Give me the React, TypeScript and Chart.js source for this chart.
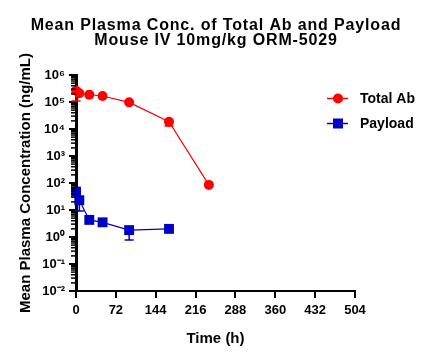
import React, { useEffect, useRef } from 'react';
import { Chart, registerables } from 'chart.js';

Chart.register(...registerables);

const FONT = '"Liberation Sans", Arial, Helvetica, sans-serif';

const titleLines = ['Mean Plasma Conc. of Total Ab and Payload', 'Mouse IV 10mg/kg ORM-5029'];
const xTitle = 'Time (h)';
const yTitle = 'Mean Plasma Concentration (ng/mL)';

const timesAb = [0.083, 6, 24, 48, 96, 168, 240];
const totalAb = [2.6e5, 2.1e5, 1.87e5, 1.67e5, 9.7e4, 1.85e4, 85];
const totalAbLow: (number | null)[] = [1.1e5, null, null, null, null, 1.3e4, null];

const timesPayload = [0.083, 6, 24, 48, 96, 168];
const payload = [48, 23, 4.3, 3.5, 1.8, 2.0];
const payloadLow: (number | null)[] = [null, 9.1, null, null, 0.78, null];

const xTicks = [0, 72, 144, 216, 288, 360, 432, 504];
const yPowers = [-2, -1, 0, 1, 2, 3, 4, 5, 6];

const seriesNames = ['Total Ab', 'Payload'];
const RED = '#FF0000';
const BLUE = '#0000C8';

const SUP: Record<string, string> = {
  '-': '\u207B', '0': '\u2070', '1': '\u00B9', '2': '\u00B2', '3': '\u00B3',
  '4': '\u2074', '5': '\u2075', '6': '\u2076', '7': '\u2077', '8': '\u2078', '9': '\u2079',
};

const isPower = (v: number) => {
  const l = Math.log10(v);
  return Math.abs(l - Math.round(l)) < 1e-9;
};

const yTickValues: number[] = [];
yPowers.forEach((p, i) => {
  yTickValues.push(Math.pow(10, p));
  if (i < yPowers.length - 1) {
    for (let m = 2; m <= 9; m++) yTickValues.push(m * Math.pow(10, p));
  }
});

const errorBars = {
  id: 'errorBars',
  beforeDatasetsDraw(chart: any) {
    const ctx = chart.ctx;
    const x = chart.scales.x;
    const y = chart.scales.y;
    const lows = [totalAbLow, payloadLow];
    chart.data.datasets.forEach((ds: any, di: number) => {
      ctx.save();
      ctx.strokeStyle = ds.borderColor;
      ctx.lineWidth = 1.5;
      ds.data.forEach((pt: any, i: number) => {
        const lo = lows[di][i];
        if (lo == null) return;
        const px = x.getPixelForValue(pt.x);
        const py = y.getPixelForValue(pt.y);
        const ly = y.getPixelForValue(lo);
        ctx.beginPath();
        ctx.moveTo(px, py);
        ctx.lineTo(px, ly);
        ctx.moveTo(px - 4.5, ly);
        ctx.lineTo(px + 4.5, ly);
        ctx.stroke();
      });
      ctx.restore();
    });
  },
};

const decorations = {
  id: 'decorations',
  afterDraw(chart: any) {
    const ctx = chart.ctx;
    const y = chart.scales.y;
    const left = chart.chartArea.left;
    ctx.save();
    // minor ticks
    ctx.strokeStyle = '#000';
    ctx.lineWidth = 1.5;
    yTickValues.forEach((v) => {
      if (isPower(v)) return;
      const py = y.getPixelForValue(v);
      ctx.beginPath();
      ctx.moveTo(left - 5, py);
      ctx.lineTo(left, py);
      ctx.stroke();
    });
    // title
    ctx.fillStyle = '#000';
    ctx.textAlign = 'center';
    ctx.textBaseline = 'alphabetic';
    ctx.font = `bold 16px ${FONT}`;
    (ctx as any).letterSpacing = '0.85px';
    ctx.fillText(titleLines[0], 216, 30);
    ctx.fillText(titleLines[1], 216, 45);
    (ctx as any).letterSpacing = '0px';
    // legend
    const items = [
      { name: seriesNames[0], color: RED, style: 'circle', y: 98.5 },
      { name: seriesNames[1], color: BLUE, style: 'rect', y: 123.5 },
    ];
    items.forEach((it) => {
      ctx.strokeStyle = it.color;
      ctx.fillStyle = it.color;
      ctx.lineWidth = 1.5;
      ctx.beginPath();
      ctx.moveTo(327, it.y);
      ctx.lineTo(348, it.y);
      ctx.stroke();
      if (it.style === 'circle') {
        ctx.beginPath();
        ctx.arc(338, it.y, 5, 0, Math.PI * 2);
        ctx.fill();
      } else {
        ctx.fillRect(333, it.y - 5, 10, 10);
      }
      ctx.fillStyle = '#000';
      ctx.textAlign = 'left';
      ctx.textBaseline = 'middle';
      ctx.font = `bold 14px ${FONT}`;
      ctx.fillText(it.name, 360, it.y + 0.5);
    });
    ctx.restore();
  },
};

export default function App() {
  const ref = useRef<HTMLCanvasElement>(null);
  useEffect(() => {
    document.body.style.margin = '0';
    if (!ref.current) return;
    const chart = new Chart(ref.current, {
      type: 'scatter',
      data: {
        datasets: [
          {
            label: seriesNames[0],
            data: timesAb.map((t, i) => ({ x: t, y: totalAb[i] })),
            showLine: true,
            borderColor: RED,
            backgroundColor: RED,
            borderWidth: 1.2,
            pointStyle: 'circle',
            pointRadius: 5,
            pointHoverRadius: 5,
            pointBorderWidth: 0,
            clip: false,
          },
          {
            label: seriesNames[1],
            data: timesPayload.map((t, i) => ({ x: t, y: payload[i] })),
            showLine: true,
            borderColor: BLUE,
            backgroundColor: BLUE,
            borderWidth: 1.2,
            pointStyle: 'rect',
            pointRadius: 7,
            pointHoverRadius: 7,
            pointBorderWidth: 0,
            clip: false,
          },
        ],
      },
      options: {
        animation: false,
        responsive: true,
        maintainAspectRatio: false,
        events: [],
        layout: { padding: { top: 75, right: 77, left: 0, bottom: 0 } },
        plugins: {
          legend: { display: false },
          title: { display: false },
          tooltip: { enabled: false },
        },
        scales: {
          x: {
            type: 'linear',
            min: 0,
            max: 504,
            afterBuildTicks: (scale: any) => {
              scale.ticks = xTicks.map((v) => ({ value: v }));
            },
            afterFit: (scale: any) => {
              scale.height = 70;
            },
            ticks: {
              autoSkip: false,
              maxRotation: 0,
              color: '#000',
              padding: 5,
              font: { family: FONT, size: 13, weight: 'bold' },
            },
            grid: {
              drawOnChartArea: false,
              drawTicks: true,
              tickLength: 7,
              lineWidth: 2,
              color: '#000',
            },
            border: { display: true, width: 2, color: '#000' },
            title: {
              display: true,
              text: xTitle,
              color: '#000',
              font: { family: FONT, size: 15, weight: 'bold' },
              padding: { top: 0, bottom: 13 },
            },
          },
          y: {
            type: 'logarithmic',
            min: 1e-2,
            max: 1e6,
            afterBuildTicks: (scale: any) => {
              scale.ticks = yTickValues.map((v) => ({ value: v }));
            },
            afterFit: (scale: any) => {
              scale.width = 76;
            },
            ticks: {
              autoSkip: false,
              color: '#000',
              padding: 4,
              font: { family: FONT, size: 13, weight: 'bold' },
              callback: (v: any) => {
                const n = Number(v);
                if (!isPower(n)) return '';
                const p = String(Math.round(Math.log10(n)));
                return '10' + p.split('').map((c) => SUP[c]).join('');
              },
            },
            grid: {
              drawOnChartArea: false,
              drawTicks: true,
              tickLength: 7,
              lineWidth: (c: any) => (c.tick && isPower(c.tick.value) ? 2 : 0),
              color: (c: any) => (c.tick && isPower(c.tick.value) ? '#000' : 'rgba(0,0,0,0)'),
            },
            border: { display: true, width: 3, color: '#000' },
            title: {
              display: true,
              text: yTitle,
              color: '#000',
              font: { family: FONT, size: 15, weight: 'bold' },
              padding: { top: 17, bottom: 0 },
            },
          },
        },
      },
      plugins: [errorBars, decorations],
    } as any);
    return () => chart.destroy();
  }, []);
  return (
    <div style={{ width: 432, height: 361, position: 'relative', background: '#fff' }}>
      <canvas ref={ref} />
    </div>
  );
}
